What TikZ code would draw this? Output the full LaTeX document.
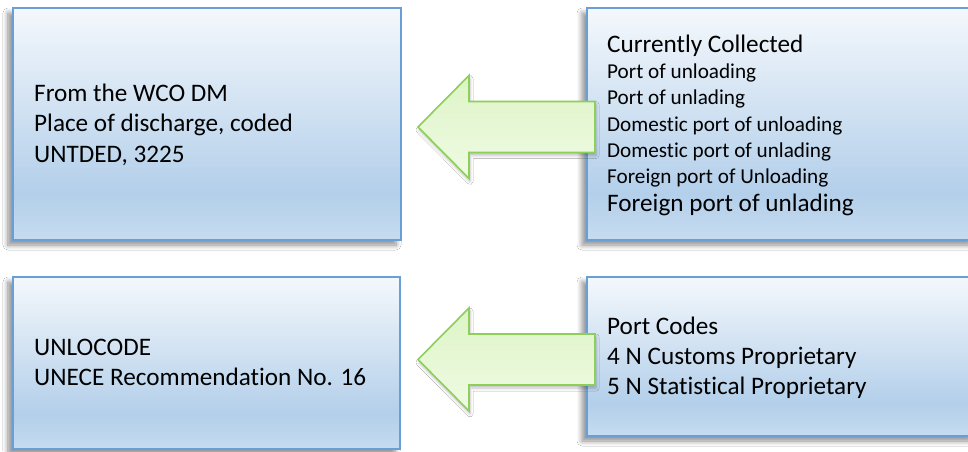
\documentclass[tikz,border=0pt]{standalone}
\usepackage{fontspec}
\setmainfont[Ligatures=NoCommon]{Carlito}
\usetikzlibrary{calc,shadows.blur}
\definecolor{boxtop}{HTML}{F4F8FC}
\definecolor{boxmid}{HTML}{B3CFEA}
\definecolor{boxbot}{HTML}{C6DCF0}
\definecolor{boxline}{HTML}{6A9FD6}
\definecolor{arrline}{HTML}{8DCF58}
\definecolor{arrtop}{HTML}{DDF4C6}
\definecolor{arrbot}{HTML}{EFFBE4}
\pgfdeclareverticalshading{boxshade}{100bp}{color(0bp)=(boxbot); color(25bp)=(boxbot); color(35bp)=(boxmid); color(75bp)=(boxtop); color(100bp)=(boxtop)}
\tikzset{
  infobox/.style={rectangle, draw=boxline, line width=2pt, shading=boxshade, inner sep=0pt,
    blur shadow={shadow xshift=-5pt, shadow yshift=-5pt, shadow opacity=45, shadow blur steps=8, shadow blur radius=5pt}},
  blockarrow/.style={draw=arrline, line width=1.6pt, top color=arrtop, bottom color=arrbot, line join=miter,
    blur shadow={shadow xshift=1pt, shadow yshift=-3pt, shadow opacity=25, shadow blur steps=5, shadow blur radius=3pt}},
  txt/.style={anchor=base west, inner sep=0pt, text=black},
  big/.style={font=\fontsize{25.2}{30}\selectfont},
  small/.style={font=\fontsize{21.2}{25}\selectfont}
}
\begin{document}
\begin{tikzpicture}[x=1pt, y=-1pt]
\useasboundingbox (0,0) rectangle (968,451);
\fill[white] (0,0) rectangle (968,451);
% boxes
\node[infobox, minimum width=388pt, minimum height=232pt] (b1) at (207,124) {};
\node[infobox, minimum width=388pt, minimum height=232pt] (b2) at (781,124) {};
\node[infobox, minimum width=387pt, minimum height=172pt] (b3) at (206.5,363) {};
\node[infobox, minimum width=388pt, minimum height=159pt] (b4) at (781,356.5) {};
% arrows
\coordinate (a1tip) at ($(b1.east)+(16,3)$);
\coordinate (a2tip) at ($(b3.east)+(17,-3.5)$);
\draw[blockarrow] (a1tip) -- ++(51,-51.5) -- ++(0,26) -- ++(126,0) -- ++(0,51) -- ++(-126,0) -- ++(0,26) -- cycle;
\draw[blockarrow] (a2tip) -- ++(51,-51.5) -- ++(0,26) -- ++(126,0) -- ++(0,51) -- ++(-126,0) -- ++(0,26) -- cycle;
% texts box 1
\node[txt, big] (t1a) at (34,101) {From the WCO DM};
\node[txt, big] (t1b) at (34,131.5) {Place of discharge, coded};
\node[txt, big] (t1c) at (34,162) {UNTDED, 3225};
% texts box 2
\node[txt, big] (t2a) at (607,52) {Currently Collected};
\node[txt, small] (t2b) at (607,78) {Port of unloading};
\node[txt, small] (t2c) at (607,104.5) {Port of unlading};
\node[txt, small] (t2d) at (607,131) {Domestic port of unloading};
\node[txt, small] (t2e) at (607,157) {Domestic port of unlading};
\node[txt, small] (t2f) at (607,183) {Foreign port of Unloading};
\node[txt, big] (t2g) at (607,211) {Foreign port of unlading};
% texts box 3
\node[txt, big] (t3a) at (34,355) {UNLOCODE};
\node[txt, big] (t3b) at (34,385.5) {UNECE Recommendation No. 16};
% texts box 4
\node[txt, big] (t4a) at (607,334) {Port Codes};
\node[txt, big] (t4b) at (607,364.5) {4 N Customs Proprietary};
\node[txt, big] (t4c) at (607,394.5) {5 N Statistical Proprietary};
\end{tikzpicture}
\end{document}
